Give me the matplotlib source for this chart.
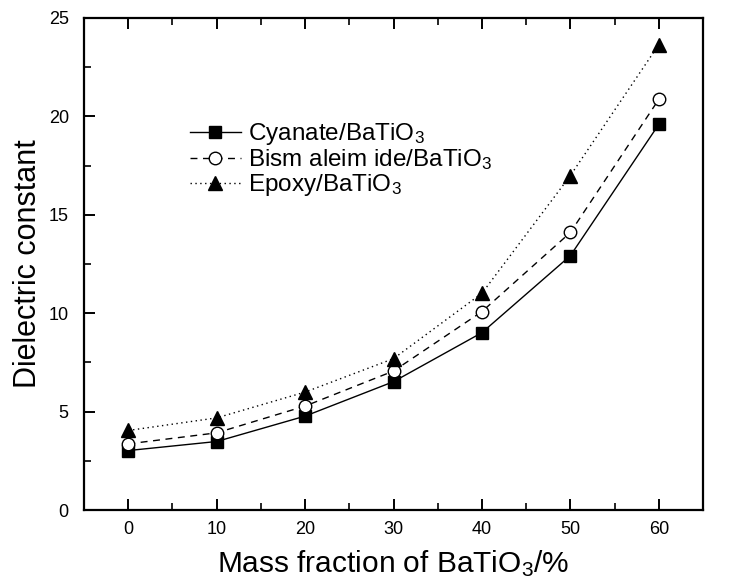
import numpy as np
import matplotlib
matplotlib.use('Agg')
import matplotlib.pyplot as plt
from matplotlib.ticker import MultipleLocator

plt.rcParams['font.family'] = ['Liberation Sans', 'DejaVu Sans']
plt.rcParams['mathtext.fontset'] = 'custom'
plt.rcParams['mathtext.rm'] = 'Liberation Sans'
plt.rcParams['mathtext.it'] = 'Liberation Sans'

# mass fraction of BaTiO3 (%)
mass_fraction = [0, 10, 20, 30, 40, 50, 60]
cyanate = [3.02, 3.48, 4.77, 6.52, 9.01, 12.92, 19.59]
bismaleimide = [3.36, 3.92, 5.28, 7.06, 10.08, 14.10, 20.86]
epoxy = [4.04, 4.68, 5.99, 7.69, 11.01, 16.99, 23.64]

labels = ['Cyanate/BaTiO$_3$', 'Bism aleim ide/BaTiO$_3$', 'Epoxy/BaTiO$_3$']

fig = plt.figure(figsize=(7.32, 5.81), dpi=100)
ax = fig.add_axes([0.1148, 0.1222, 0.8456, 0.847])

ax.plot(mass_fraction, cyanate, color='k', ls='-', lw=1.0,
        marker='s', ms=8.5, mfc='k', mec='k', label=labels[0])
ax.plot(mass_fraction, bismaleimide, color='k', ls=(0, (5, 4)), lw=1.0,
        marker='o', ms=9, mfc='white', mec='k', mew=1.0, label=labels[1])
ax.plot(mass_fraction, epoxy, color='k', ls=(0, (1, 2.5)), lw=1.0,
        marker='^', ms=10, mfc='k', mec='k', label=labels[2])

ax.set_xlim(-5, 65)
ax.set_ylim(0, 25)
ax.xaxis.set_major_locator(MultipleLocator(10))
ax.xaxis.set_minor_locator(MultipleLocator(5))
ax.yaxis.set_major_locator(MultipleLocator(5))
ax.yaxis.set_minor_locator(MultipleLocator(2.5))

for s in ax.spines.values():
    s.set_linewidth(1.6)

ax.tick_params(axis='both', which='major', direction='in', length=8, width=1.4,
               labelsize=13, pad=8)
ax.tick_params(axis='y', which='major', pad=11)
ax.tick_params(axis='both', which='minor', direction='in', length=5, width=1.2)
ax.tick_params(axis='x', which='both', top=True)

ax.set_xlabel('Mass fraction of BaTiO$_3$/%', fontsize=21.5, labelpad=7)
ax.set_ylabel('Dielectric constant', fontsize=22, labelpad=4)

ax.legend(loc='upper left', bbox_to_anchor=(0.155, 0.81), frameon=False,
          fontsize=17.5, handlelength=2.1, handletextpad=0.3, labelspacing=0.0,
          borderaxespad=0)

fig.savefig('out.png', dpi=100)
